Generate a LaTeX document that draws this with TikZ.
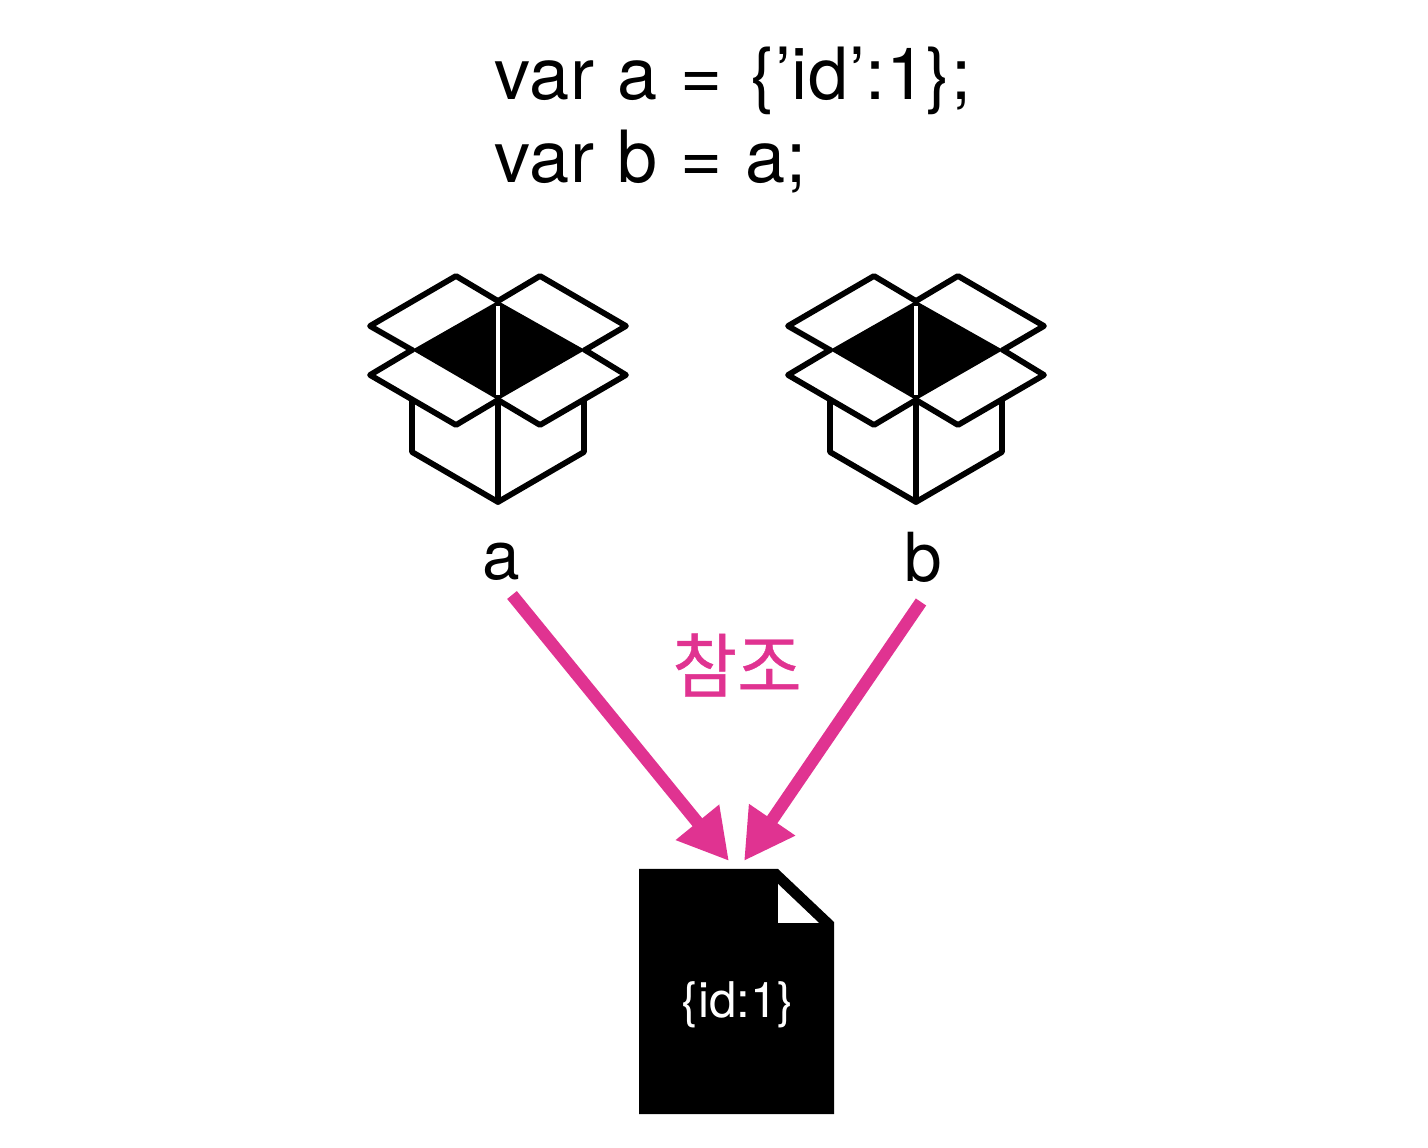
\documentclass[tikz,border=0pt]{standalone}
\usepackage{fontspec}
\setmainfont{TeX Gyre Heros}
\newfontfamily\codefont[LetterSpace=0.8,WordSpace=1.12]{TeX Gyre Heros}
\newfontfamily\krfont[FakeBold=0.6]{Noto Sans CJK KR}
\usepackage{tikz}
\usetikzlibrary{arrows.meta}
\definecolor{refpink}{HTML}{E03391}

\begin{document}
\begin{tikzpicture}[x=0.02cm, y=-0.02cm,
      code/.style={anchor=base west, inner sep=0pt, font=\codefont\fontsize{41}{41}\selectfont},
      lab/.style={inner sep=0pt, font=\fontsize{38.5}{38.5}\selectfont},
      edge/.style={line width=0.115cm, line join=round, line cap=round},
      ref/.style={-{Triangle[length=1.0cm, width=1.05cm]}, line width=0.25cm, refpink}
    ]
    \useasboundingbox (0,0) rectangle (1428,1148);

    % code lines
    \node[code] (lineone) at (494,100) {var a =\hspace{3pt} \{’id’:1\};};
    \node[code] (linetwo) at (494,183) {var b = a;};

    % open boxes
    \foreach \boxx in {0,418} {
      \begin{scope}[shift={(\boxx,0)}]
        \fill (498,301) -- (412,350) -- (498,400) -- (585,350) -- cycle;
        \draw[white, line width=0.09cm] (498,306) -- (498,395);
        \draw[edge] (498,301) -- (456,276) -- (370,326) -- (412,350);
        \draw[edge] (498,301) -- (540,276) -- (626,326) -- (585,350);
        \draw[edge] (412,350) -- (370,375) -- (456,425) -- (498,400);
        \draw[edge] (585,350) -- (626,375) -- (540,425) -- (498,400);
        \draw[edge] (412,400) -- (412,452) -- (498,502) -- (584,452) -- (584,400);
        \draw[edge] (498,400) -- (498,502);
      \end{scope}
    }
    \node[lab] (laba) at (501,562) {a};
    \node[lab] (labb) at (923,557) {b};

    % document
    \fill (639,869) -- (778,869) -- (834,922) -- (834,1114) -- (639,1114) -- cycle;
    \fill[white] (778,884) -- (778,923) -- (819,923) -- cycle;
    \node[lab, text=white, font=\fontsize{28}{28}\selectfont] (docval) at (738,1005) {\{id:1\}};

    % references
    \coordinate (taila) at (512,595);
    \coordinate (tipa) at (729,861);
    \coordinate (tailb) at (921,602);
    \coordinate (tipb) at (744,861);
    \draw[ref] (taila) -- (tipa);
    \draw[ref] (tailb) -- (tipb);
    \node[lab, text=refpink, font=\krfont\fontsize{40}{40}\selectfont] (reflab) at (737,665) {참조};
\end{tikzpicture}
\end{document}
